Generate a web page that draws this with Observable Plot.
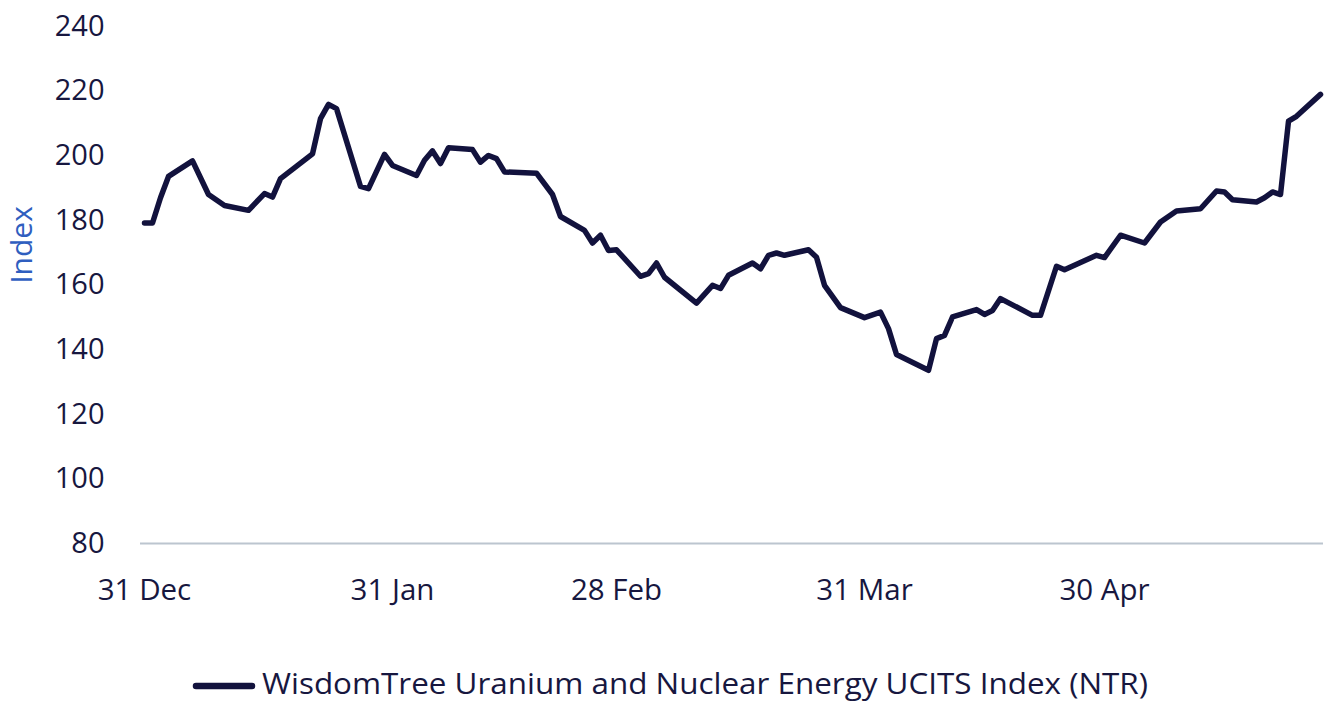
<!DOCTYPE html>
<html>
<head>
<meta charset="utf-8">
<script src="https://cdn.jsdelivr.net/npm/d3@7"></script>
<script src="https://cdn.jsdelivr.net/npm/@observablehq/plot@0.6"></script>
<style>
  html, body { margin: 0; padding: 0; background: #ffffff; }
  #chart svg { display: block; }
  #legend svg { display: block; }
</style>
</head>
<body>
<div id="chart"></div>
<div id="legend"></div>
<script>
// ---- data ----
const seriesName = "WisdomTree Uranium and Nuclear Energy UCITS Index (NTR)";
const dates = [
  "2022-12-31","2023-01-01","2023-01-02","2023-01-03","2023-01-06","2023-01-08","2023-01-10","2023-01-13",
  "2023-01-15","2023-01-16","2023-01-17","2023-01-21","2023-01-22","2023-01-23","2023-01-24","2023-01-27",
  "2023-01-28","2023-01-30","2023-01-31","2023-02-03","2023-02-04","2023-02-05","2023-02-06","2023-02-07",
  "2023-02-10","2023-02-11","2023-02-12","2023-02-13","2023-02-14","2023-02-18","2023-02-20","2023-02-21",
  "2023-02-24","2023-02-25","2023-02-26","2023-02-27","2023-02-28","2023-03-03","2023-03-04","2023-03-05",
  "2023-03-06","2023-03-10","2023-03-12","2023-03-13","2023-03-14","2023-03-17","2023-03-18","2023-03-19",
  "2023-03-20","2023-03-21","2023-03-24","2023-03-25","2023-03-26","2023-03-28","2023-03-31","2023-04-02",
  "2023-04-03","2023-04-04","2023-04-08","2023-04-09","2023-04-10","2023-04-11","2023-04-14","2023-04-15",
  "2023-04-16","2023-04-17","2023-04-21","2023-04-22","2023-04-24","2023-04-25","2023-04-29","2023-04-30",
  "2023-05-02","2023-05-05","2023-05-07","2023-05-09","2023-05-12","2023-05-14","2023-05-15","2023-05-16",
  "2023-05-19","2023-05-20","2023-05-21","2023-05-22","2023-05-23","2023-05-24","2023-05-27"
];
const values = [
  179.2,179.2,187.0,193.6,198.4,188.0,184.6,183.1,
  188.3,187.2,192.9,200.6,211.5,215.9,214.6,190.5,
  189.8,200.4,197.0,193.9,198.6,201.5,197.6,202.5,
  201.9,198.0,200.1,199.1,195.0,194.6,188.0,181.2,
  176.9,173.0,175.4,170.7,170.9,162.7,163.5,166.8,
  162.4,154.4,159.9,158.9,163.0,166.8,165.0,169.2,
  169.9,169.2,170.9,168.6,159.9,153.0,149.9,151.6,
  146.5,138.5,133.6,143.4,144.4,150.1,152.4,150.9,
  152.1,155.8,150.6,150.6,165.8,164.7,169.2,168.5,
  175.4,173.0,179.5,182.9,183.6,189.1,188.8,186.4,
  185.7,187.0,188.8,188.0,210.7,212.2,219.0
];
const yTicks = [80, 100, 120, 140, 160, 180, 200, 220, 240];
const xTickDates = ["2022-12-31", "2023-01-31", "2023-02-28", "2023-03-31", "2023-04-30"];
const yLabel = "Index";

// ---- build table ----
const parse = d3.utcParse("%Y-%m-%d");
const data = dates.map((d, i) => ({date: parse(d), value: values[i]}));
const xTicks = xTickDates.map(parse);

const lineColor = "#12123d";
const textColor = "#17173f";
const fontFamily = "'Open Sans', 'Liberation Sans', sans-serif";

const chart = Plot.plot({
  width: 1326,
  height: 620,
  marginLeft: 140,
  marginRight: 3,
  marginTop: 26,
  marginBottom: 77,
  style: {fontFamily, fontSize: "29px", color: textColor, background: "#ffffff", overflow: "visible"},
  x: {type: "utc", domain: [new Date(Date.UTC(2022, 11, 30, 12)), new Date(Date.UTC(2023, 4, 27, 9))]},
  y: {domain: [80, 240]},
  marks: [
    Plot.axisY(yTicks, {tickSize: 0, tickPadding: 36, fontSize: 29, fill: textColor, label: null}),
    Plot.axisX(xTicks, {tickSize: 0, tickPadding: 36, fontSize: 29.5, fill: textColor, label: null,
      tickFormat: d3.utcFormat("%-d %b")}),
    Plot.ruleY([80], {stroke: "#bcc5cf", strokeWidth: 2}),
    Plot.line(data, {x: "date", y: "value", stroke: lineColor, strokeWidth: 5.5,
      strokeLinejoin: "round", strokeLinecap: "round"}),
    Plot.text([yLabel], {frameAnchor: "left", text: d => d, rotate: -90, dx: -118, dy: -40,
      fill: "#2f5ebf", fontSize: 30, textAnchor: "middle"})
  ]
});
document.getElementById("chart").appendChild(chart);

// ---- legend below the chart ----
const lg = d3.select("#legend").append("svg")
  .attr("width", 1326).attr("height", 82)
  .style("font-family", fontFamily);
lg.append("line")
  .attr("x1", 196).attr("x2", 252).attr("y1", 66).attr("y2", 66)
  .attr("stroke", lineColor).attr("stroke-width", 6.5).attr("stroke-linecap", "round");
lg.append("text")
  .attr("x", 262).attr("y", 74)
  .attr("font-size", 30)
  .attr("fill", textColor)
  .attr("textLength", 886).attr("lengthAdjust", "spacingAndGlyphs")
  .text(seriesName);
</script>
</body>
</html>
